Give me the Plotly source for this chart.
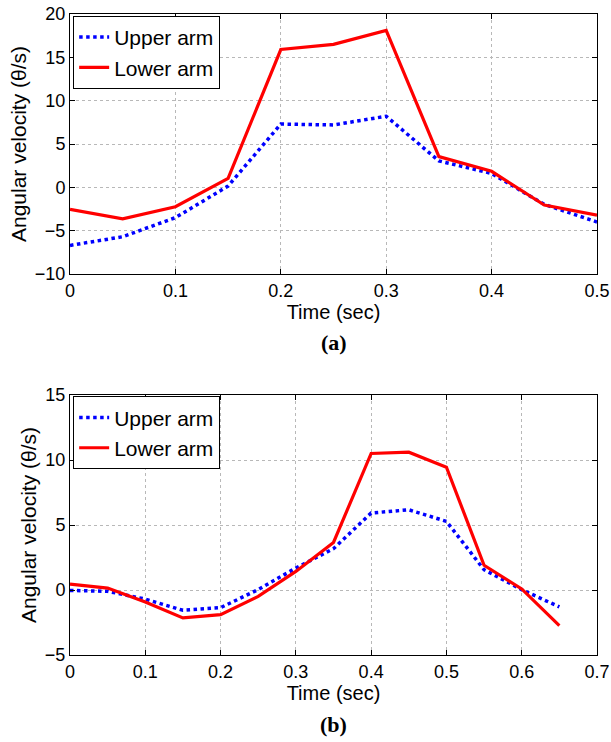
import plotly.graph_objects as go

# Panel (a)
time_a = [0, 0.05, 0.1, 0.15, 0.2, 0.25, 0.3, 0.35, 0.4, 0.45, 0.5]
upper_a = [-6.7, -5.7, -3.5, 0.15, 7.3, 7.2, 8.2, 3.05, 1.6, -1.97, -4.0]
lower_a = [-2.55, -3.63, -2.24, 1.04, 15.9, 16.5, 18.1, 3.55, 1.85, -2.04, -3.2]

# Panel (b)
time_b = [0, 0.05, 0.1, 0.15, 0.2, 0.25, 0.3, 0.35, 0.4, 0.45, 0.5, 0.55, 0.6, 0.65]
upper_b = [-0.03, -0.1, -0.7, -1.56, -1.36, 0.03, 1.69, 3.18, 5.92, 6.17, 5.28, 1.56, 0.03, -1.3]
lower_b = [0.46, 0.15, -0.92, -2.15, -1.9, -0.49, 1.43, 3.66, 10.5, 10.6, 9.45, 1.9, 0.08, -2.74]

xticks_a = [0, 0.1, 0.2, 0.3, 0.4, 0.5]
yticks_a = [-10, -5, 0, 5, 10, 15, 20]
xticks_b = [0, 0.1, 0.2, 0.3, 0.4, 0.5, 0.6, 0.7]
yticks_b = [-5, 0, 5, 10, 15]

BLUE = "#0000ff"
RED = "#ff0000"
FONT = "Liberation Sans, Arial, sans-serif"

fig = go.Figure()
fig.add_trace(go.Scatter(x=time_a, y=upper_a, mode="lines", name="Upper arm",
                         line=dict(color=BLUE, width=3.5, dash="dot"),
                         xaxis="x", yaxis="y", legend="legend"))
fig.add_trace(go.Scatter(x=time_a, y=lower_a, mode="lines", name="Lower arm",
                         line=dict(color=RED, width=3.2),
                         xaxis="x", yaxis="y", legend="legend"))
fig.add_trace(go.Scatter(x=time_b, y=upper_b, mode="lines", name="Upper arm",
                         line=dict(color=BLUE, width=3.5, dash="dot"),
                         xaxis="x2", yaxis="y2", legend="legend2"))
fig.add_trace(go.Scatter(x=time_b, y=lower_b, mode="lines", name="Lower arm",
                         line=dict(color=RED, width=3.2),
                         xaxis="x2", yaxis="y2", legend="legend2"))

common = dict(
    showline=True, linecolor="black", linewidth=1, mirror="ticks",
    ticks="inside", ticklen=5, tickcolor="black",
    showgrid=True, gridcolor="#b8b8b8", griddash="dot", gridwidth=1,
    zeroline=False, tickfont=dict(family=FONT, size=18, color="black"),
    automargin=False,
)

W, H = 611, 742
T, B, L, R = 14, 87, 70, 14
PH = H - T - B  # 641
top_dom = [(PH - 260) / PH, 1.0]
bot_dom = [0.0, 260 / PH]

fig.update_layout(
    width=W, height=H,
    margin=dict(l=L, r=R, t=T, b=B),
    paper_bgcolor="white", plot_bgcolor="white",
    font=dict(family=FONT, color="black"),
    xaxis=dict(domain=[0, 1], anchor="y", range=[0, 0.5], tickvals=xticks_a,
               title=dict(text="Time (sec)", font=dict(size=20), standoff=2), **common),
    yaxis=dict(domain=top_dom, anchor="x", range=[-10, 20], tickvals=yticks_a,
               title=dict(text="Angular velocity (θ/s)", font=dict(size=21), standoff=2), **common),
    xaxis2=dict(domain=[0, 1], anchor="y2", range=[0, 0.7], tickvals=xticks_b,
                title=dict(text="Time (sec)", font=dict(size=20), standoff=2), **common),
    yaxis2=dict(domain=bot_dom, anchor="x2", range=[-5, 15], tickvals=yticks_b,
                title=dict(text="Angular velocity (θ/s)", font=dict(size=21), standoff=2), **common),
    legend=dict(x=0.006, y=0.997, xanchor="left", yanchor="top",
                bordercolor="black", borderwidth=1, bgcolor="white",
                font=dict(family=FONT, size=21, color="black"),
                itemwidth=30, tracegroupgap=0),
    legend2=dict(x=0.006, y=bot_dom[1] - 0.002, xanchor="left", yanchor="top",
                 bordercolor="black", borderwidth=1, bgcolor="white",
                 font=dict(family=FONT, size=21, color="black"),
                 itemwidth=30, tracegroupgap=0),
    showlegend=True,
    annotations=[
        dict(text="<b>(a)</b>", x=0.5, xref="paper", y=(T + PH - 343) / PH, yref="paper",
             xanchor="center", yanchor="middle", showarrow=False,
             font=dict(family="Liberation Serif, Times New Roman, serif", size=22)),
        dict(text="<b>(b)</b>", x=0.5, xref="paper", y=(T + PH - 724) / PH, yref="paper",
             xanchor="center", yanchor="middle", showarrow=False,
             font=dict(family="Liberation Serif, Times New Roman, serif", size=22)),
    ],
)

fig.write_html(
    "out.html",
    config={"displayModeBar": False},
    post_script="document.body.style.margin='0';document.body.style.overflow='hidden';",
)
